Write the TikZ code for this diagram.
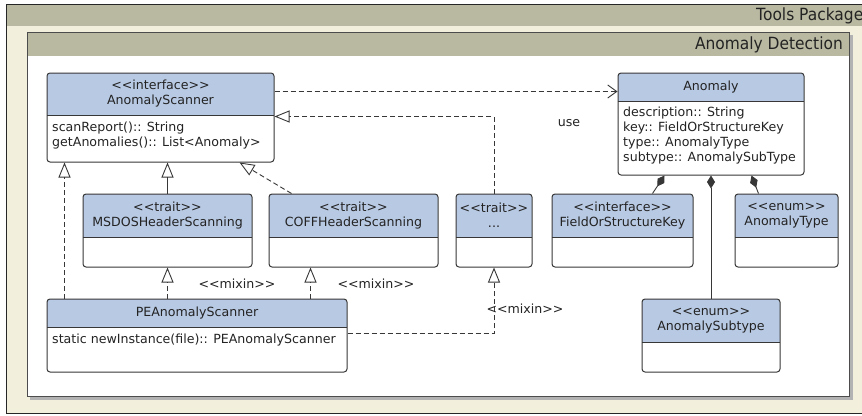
\documentclass[tikz,border=0pt]{standalone}
\usepackage{fontspec}
\newfontfamily\umlfont{DejaVu Sans}
\newfontfamily\pkgfont[FakeStretch=0.92]{DejaVu Sans}
\usetikzlibrary{arrows.meta}

\definecolor{hdr}{RGB}{184,201,227}
\definecolor{pkgband}{RGB}{185,185,162}
\definecolor{pkgbg}{RGB}{242,240,220}
\definecolor{ink}{RGB}{35,35,35}
\definecolor{edge}{RGB}{55,55,55}

\tikzset{
  umlbox/.style={draw=edge, line width=1pt, rounded corners=3pt, inner sep=0pt},
  conn/.style={draw=edge, line width=0.9pt},
  dashline/.style={conn, dash pattern=on 5pt off 3pt},
  gen/.style={-{Triangle[open, length=15pt, width=12pt, line width=0.9pt]}},
  usearrow/.style={-{Straight Barb[length=9pt, width=13pt, line width=0.9pt]}},
  comp/.style={-{Diamond[length=13pt, width=8pt]}},
  lbl/.style={font=\umlfont\fontsize{12.6}{15}\selectfont, text=ink, inner sep=0pt},
  pkgtitle/.style={font=\pkgfont\fontsize{16.8}{18}\selectfont, text=ink, inner sep=0pt},
}

% name, x1, y1, x2, y2, header bottom, header text
\newcommand\umlcls[7]{%
  \fill[white, rounded corners=3pt] (#2,#3) rectangle (#4,#5);
  \begin{scope}
    \clip[rounded corners=3pt] (#2,#3) rectangle (#4,#5);
    \fill[hdr] (#2,#3) rectangle (#4,#6);
  \end{scope}
  \draw[edge, line width=1pt] (#2,#6) -- (#4,#6);
  \node[umlbox, minimum width={(#4)-(#2)}, minimum height={(#5)-(#3)}] (#1)
    at ({((#2)+(#4))/2},{((#3)+(#5))/2}) {};
  \node[lbl, align=center] (#1-h) at ({((#2)+(#4))/2},{((#3)+(#6))/2}) {#7};
}

\begin{document}
\begin{tikzpicture}[x=1pt,y=-1pt]
\useasboundingbox (0,0) rectangle (862,415);
\clip (0,0) rectangle (862,415);
\fill[white] (0,0) rectangle (862,415);

% outer package
\fill[pkgbg] (6,4) rectangle (880,413);
\fill[pkgband] (6,4) rectangle (880,26);
\draw[black!85, line width=1pt] (6,4) rectangle (880,413);
\node[pkgtitle, anchor=west] (toolspkg) at (756,15.5) {Tools Package};

% inner package
\fill[black!30] (30,35) rectangle (853,400);
\fill[white] (27,32) rectangle (849,396);
\fill[pkgband] (27,32) rectangle (849,56);
\draw[black!70, line width=1pt] (27,32) rectangle (849,396);
\node[pkgtitle, anchor=east] (anomalypkg) at (843,44.5) {Anomaly Detection};

% classes
\umlcls{as}{47}{73}{274}{162}{115}{<<interface>>\\AnomalyScanner}
\node[lbl, align=left, anchor=north west] (as-b) at (52,122) {scanReport():: String\\getAnomalies():: List<Anomaly>};

\umlcls{an}{618}{73}{804}{175}{101}{Anomaly}
\node[lbl, align=left, anchor=north west] (an-b) at (623,107) {description:: String\\key:: FieldOrStructureKey\\type:: AnomalyType\\subtype:: AnomalySubType};

\umlcls{ms}{83}{194}{252}{267}{237}{<<trait>>\\MSDOSHeaderScanning}
\umlcls{co}{269}{194}{438}{267}{237}{<<trait>>\\COFFHeaderScanning}
\umlcls{tr}{456}{194}{532}{267}{237}{<<trait>>\\...}
\umlcls{fk}{552}{194}{693}{267}{237}{<<interface>>\\FieldOrStructureKey}
\umlcls{at}{735}{194}{838}{267}{237}{<<enum>>\\AnomalyType}

\umlcls{pe}{47}{299}{347}{372}{327}{PEAnomalyScanner}
\node[lbl, align=left, anchor=north west] (pe-b) at (52,334) {static newInstance(file):: PEAnomalyScanner};

\umlcls{st}{642}{299}{780}{372}{342}{<<enum>>\\AnomalySubtype}

% connectors
\draw[dashline, usearrow] ([yshift=-19pt]as.north east) -- ([yshift=-19pt]an.north west);
\node[lbl] (uselbl) at (569,123) {use};

\draw[dashline, gen] (tr.north) |- ([yshift=-44pt]as.north east);
\draw[conn, gen] (ms.north) -- (ms.north |- as.south);
\draw[dashline, gen] ([xshift=23pt]co.north west) -- ([xshift=193pt]as.south west);
\draw[dashline, gen] ([xshift=18pt]pe.north west) -- ([xshift=18pt]as.south west);

\draw[dashline, gen] (pe.north -| ms.south) -- (ms.south);
\node[lbl] (mixin1) at (237,284) {<<mixin>>};
\draw[dashline, gen] ([xshift=264pt]pe.north west) -- ([xshift=42pt]co.south west);
\node[lbl] (mixin2) at (376,284) {<<mixin>>};
\draw[dashline, gen] ([yshift=-35pt]pe.north east) -| (tr.south);
\node[lbl] (mixin3) at (525,309) {<<mixin>>};

\draw[conn, comp] ([xshift=101pt]fk.north west) -- ([xshift=47pt]an.south west);
\draw[conn, comp] (st.north) -- (st.north |- an.south);
\draw[conn, comp] ([xshift=24pt]at.north west) -- ([xshift=134pt]an.south west);
\end{tikzpicture}
\end{document}
